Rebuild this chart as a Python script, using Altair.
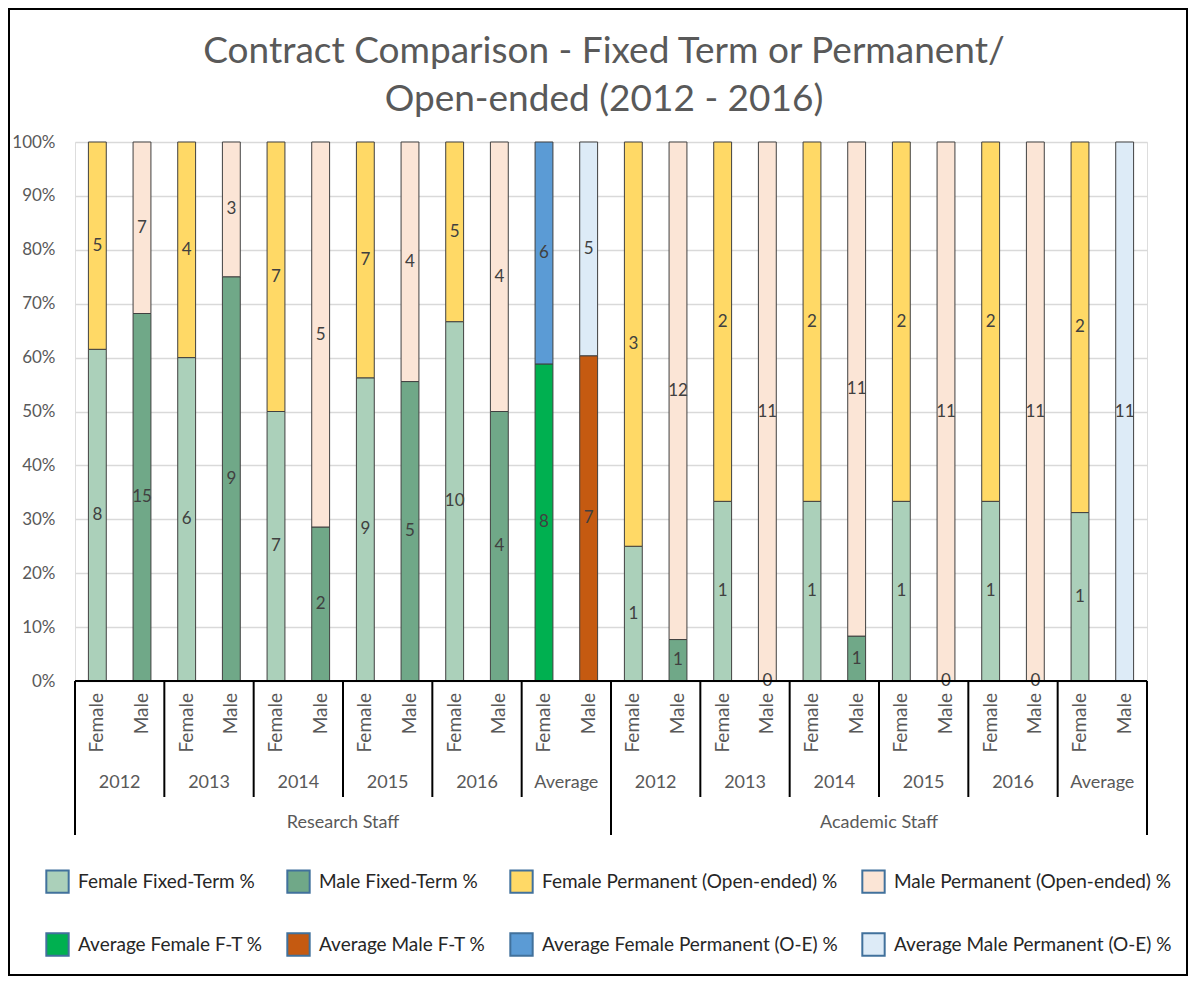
import altair as alt
import pandas as pd

# ---------------- data ----------------
staff_groups = ["Research Staff", "Academic Staff"]
periods = ["2012", "2013", "2014", "2015", "2016", "Average"]
genders = ["Female", "Male"]

# counts per bar (bar order: staff -> period -> gender)
fixed_term = [8, 15, 6, 9, 7, 2, 9, 5, 10, 4, 8.0, 7.0,
              1, 1, 1, 0, 1, 1, 1, 0, 1, 0, 1.0, None]
permanent = [5, 7, 4, 3, 7, 5, 7, 4, 5, 4, 5.6, 4.6,
             3, 12, 2, 11, 2, 11, 2, 11, 2, 11, 2.2, 11.2]

ft_series = (["Female Fixed-Term %", "Male Fixed-Term %"] * 5
             + ["Average Female F-T %", "Average Male F-T %"]
             + ["Female Fixed-Term %", "Male Fixed-Term %"] * 5
             + ["Female Fixed-Term %", "Average Male F-T %"])
perm_series = (["Female Permanent (Open-ended) %", "Male Permanent (Open-ended) %"] * 5
               + ["Average Female Permanent (O-E) %", "Average Male Permanent (O-E) %"]
               + ["Female Permanent (Open-ended) %", "Male Permanent (Open-ended) %"] * 5
               + ["Female Permanent (Open-ended) %", "Average Male Permanent (O-E) %"])

# legend order (filled column by column, two rows)
series_order = ["Female Fixed-Term %", "Average Female F-T %",
                "Male Fixed-Term %", "Average Male F-T %",
                "Female Permanent (Open-ended) %", "Average Female Permanent (O-E) %",
                "Male Permanent (Open-ended) %", "Average Male Permanent (O-E) %"]
series_colors = ["#ABD0BA", "#00B050",
                 "#70A888", "#C55A11",
                 "#FFD966", "#5B9BD5",
                 "#FBE5D6", "#DDEBF7"]

title_lines = ["Contract Comparison - Fixed Term or Permanent/", "Open-ended (2012 - 2016)"]

# ---------------- tables ----------------
bars = []
rows = []
pos = 0
for s in staff_groups:
    for p in periods:
        for g in genders:
            bars.append({"pos": pos, "staff": s, "period": p, "gender": g})
            if fixed_term[pos] is not None:
                rows.append({"pos": pos, "layer": 0, "series": ft_series[pos], "value": fixed_term[pos]})
            if permanent[pos] is not None:
                rows.append({"pos": pos, "layer": 1, "series": perm_series[pos], "value": permanent[pos]})
            pos += 1
bars_df = pd.DataFrame(bars)
seg_df = pd.DataFrame(rows)
n_bars = len(bars_df)

grp = bars_df.groupby(["staff", "period"], sort=False)["pos"].agg(["min", "max"]).reset_index()
grp["center"] = (grp["min"] + grp["max"] + 1) / 2
year_bounds = pd.DataFrame({"b": sorted(set(grp["min"].tolist()) | {n_bars})})
sg = bars_df.groupby("staff", sort=False)["pos"].agg(["min", "max"]).reset_index()
sg["center"] = (sg["min"] + sg["max"] + 1) / 2
staff_bounds = pd.DataFrame({"b": sorted(set(sg["min"].tolist()) | {n_bars})})
title_df = pd.DataFrame({"line": title_lines, "row": list(range(len(title_lines)))})

W, H = 1072, 539
FONT = "Lato"
xscale = alt.Scale(domain=[0, n_bars], nice=False, zero=False)

# ---------------- layers ----------------
stacked = alt.Chart(seg_df).transform_stack(
    stack="value", groupby=["pos"], sort=[alt.SortField("layer", order="ascending")],
    as_=["y0", "y1"], offset="normalize"
).transform_calculate(
    xl="datum.pos + 0.3", xr="datum.pos + 0.7", xm="datum.pos + 0.5", ym="(datum.y0 + datum.y1) / 2"
)

bar_layer = stacked.mark_bar(stroke="#404040", strokeWidth=1).encode(
    x=alt.X("xl:Q", scale=xscale, axis=None),
    x2="xr:Q",
    y=alt.Y("y0:Q", scale=alt.Scale(domain=[0, 1], nice=False),
            axis=alt.Axis(format=".0%", values=[i / 10 for i in range(11)], title=None,
                          domain=False, ticks=False, labelPadding=20, labelFontSize=17,
                          labelFont=FONT, labelColor="#595959", gridColor="#D9D9D9",
                          gridWidth=1.5)),
    y2="y1:Q",
    color=alt.Color("series:N", scale=alt.Scale(domain=series_order, range=series_colors),
                    legend=alt.Legend(orient="none", legendX=-30, legendY=727, columns=4,
                                      title=None, symbolType="square", symbolSize=500,
                                      symbolStrokeColor="#41719C", symbolStrokeWidth=2,
                                      symbolOpacity=1, labelFontSize=19, labelFont=FONT,
                                      labelColor="#262626", labelOffset=8, columnPadding=20,
                                      rowPadding=32, labelLimit=500, gridAlign="each")),
)

value_labels = stacked.mark_text(fontSize=17, font=FONT, color="#404040", baseline="middle").encode(
    x=alt.X("xm:Q", scale=xscale),
    y=alt.Y("ym:Q"),
    text=alt.Text("value:Q", format=".0f"),
)

baseline = alt.Chart(pd.DataFrame({"a": [0], "b": [n_bars]})).mark_rule(
    color="black", strokeWidth=2).encode(
    x=alt.X("a:Q", scale=xscale), x2="b:Q", y=alt.value(H))

year_rules = alt.Chart(year_bounds).mark_rule(color="black", strokeWidth=2).encode(
    x=alt.X("b:Q", scale=xscale), y=alt.value(H), y2=alt.value(655))

staff_rules = alt.Chart(staff_bounds).mark_rule(color="black", strokeWidth=2).encode(
    x=alt.X("b:Q", scale=xscale), y=alt.value(H), y2=alt.value(693))

gender_text = alt.Chart(bars_df).transform_calculate(xm="datum.pos + 0.5").mark_text(
    angle=270, align="right", baseline="middle", fontSize=19, font=FONT, color="#595959").encode(
    x=alt.X("xm:Q", scale=xscale), y=alt.value(551), text="gender:N")

period_text = alt.Chart(grp).mark_text(
    baseline="middle", fontSize=18, font=FONT, color="#595959").encode(
    x=alt.X("center:Q", scale=xscale), y=alt.value(641), text="period:N")

staff_text = alt.Chart(sg).mark_text(
    baseline="middle", fontSize=18, font=FONT, color="#595959").encode(
    x=alt.X("center:Q", scale=xscale), y=alt.value(681), text="staff:N")

title_text = alt.Chart(title_df).transform_calculate(ty="-90 + datum.row * 48").mark_text(
    baseline="middle", align="center", fontSize=37, font=FONT, color="#595959").encode(
    x=alt.value(529), y=alt.Y("ty:Q", scale=None), text="line:N")

border = alt.Chart(alt.Data(values=[{}])).mark_rect(
    filled=False, stroke="black", strokeWidth=2).encode(
    x=alt.value(-66), x2=alt.value(W + 40), y=alt.value(-133), y2=alt.value(H + 294))

chart = alt.layer(
    bar_layer, value_labels, baseline, year_rules, staff_rules,
    gender_text, period_text, staff_text, title_text, border
).properties(
    width=W, height=H,
    autosize=alt.AutoSizeParams(type="none"),
    padding={"left": 67, "top": 134, "right": 42, "bottom": 295},
).configure_view(stroke=None).configure(background="white")

chart.save("out.html", embed_options={"renderer": "svg", "actions": False})
